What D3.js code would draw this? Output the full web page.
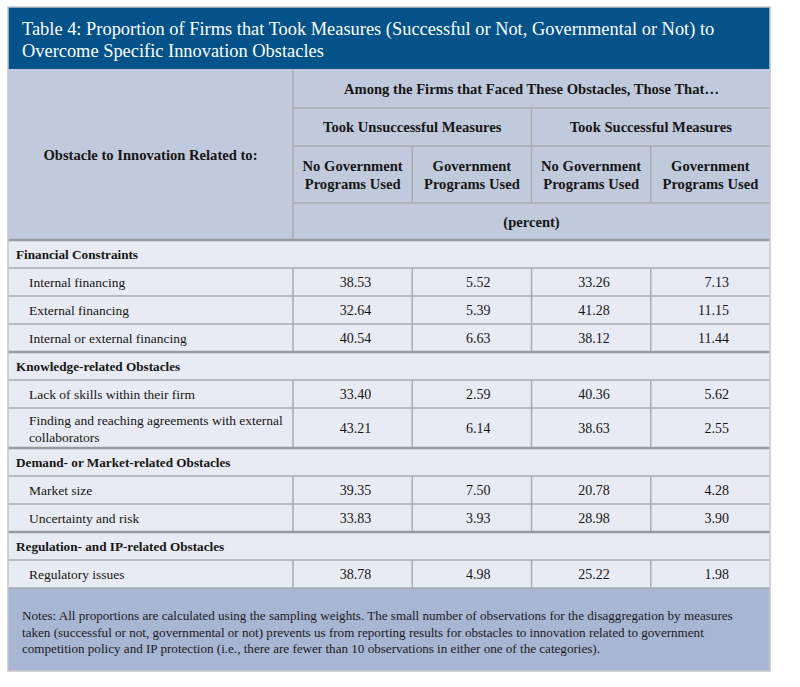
<!DOCTYPE html>
<html lang="en">
<head>
    <meta charset="UTF-8">
    <title>Table 4: Innovation Obstacles</title>
    <script src="https://d3js.org/d3.v7.js"></script>
    <style>
        body { margin: 0; background: #fff; }
        svg text { font-family: "Liberation Serif", "DejaVu Serif", serif; }
    </style>
</head>
<body>
<div id="my_dataviz"></div>
<script>
// ---- data ----
const titleLines = [
    "Table 4: Proportion of Firms that Took Measures (Successful or Not, Governmental or Not) to",
    "Overcome Specific Innovation Obstacles"
];
const stubHeader = "Obstacle to Innovation Related to:";
const spanHeader = "Among the Firms that Faced These Obstacles, Those That\u2026";
const measureHeaders = ["Took Unsuccessful Measures", "Took Successful Measures"];
const programHeaders = [["No Government", "Programs Used"], ["Government", "Programs Used"],
                        ["No Government", "Programs Used"], ["Government", "Programs Used"]];
const unitLabel = "(percent)";

const rowLabels = [
    ["Financial Constraints"],
    ["Internal financing"],
    ["External financing"],
    ["Internal or external financing"],
    ["Knowledge-related Obstacles"],
    ["Lack of skills within their firm"],
    ["Finding and reaching agreements with external", "collaborators"],
    ["Demand- or Market-related Obstacles"],
    ["Market size"],
    ["Uncertainty and risk"],
    ["Regulation- and IP-related Obstacles"],
    ["Regulatory issues"]
];
const isGroup = [true, false, false, false, true, false, false, true, false, false, true, false];
const unsuccNoGov = [null, 38.53, 32.64, 40.54, null, 33.40, 43.21, null, 39.35, 33.83, null, 38.78];
const unsuccGov   = [null, 5.52, 5.39, 6.63, null, 2.59, 6.14, null, 7.50, 3.93, null, 4.98];
const succNoGov   = [null, 33.26, 41.28, 38.12, null, 40.36, 38.63, null, 20.78, 28.98, null, 25.22];
const succGov     = [null, 7.13, 11.15, 11.44, null, 5.62, 2.55, null, 4.28, 3.90, null, 1.98];
const valueCols = ["c1", "c2", "c3", "c4"];
const series = [unsuccNoGov, unsuccGov, succNoGov, succGov];

const notesLines = [
    "Notes: All proportions are calculated using the sampling weights. The small number of observations for the disaggregation by measures",
    "taken (successful or not, governmental or not) prevents us from reporting results for obstacles to innovation related to government",
    "competition policy and IP protection (i.e., there are fewer than 10 observations in either one of the categories)."
];

// ---- layout ----
const W = 800, H = 687;
const frameL = 8, frameR = 770, frameT = 7;
const stubRight = 293;
const titleH = 62;
const headTop = frameT + titleH;        // 69
const headRows = [39, 38, 57, 37];      // heights of header rows
const bodyTop = headTop + d3.sum(headRows);
const notesH = 83;

const colors = {
    title: "#03528a",
    head: "#c1cadc",
    body: "#e8ebf3",
    notes: "#a7b6d3",
    line: "#a9abb1",
    heavy: "#979a9f",
    ink: "#161616"
};

const svg = d3.select("#my_dataviz")
    .append("svg")
    .attr("width", W)
    .attr("height", H);

// column scale for the four value columns
const x = d3.scaleBand()
    .domain(valueCols)
    .range([stubRight, frameR]);

// body rows have variable heights
const rowH = rowLabels.map(l => l.length > 1 ? 40 : 28);
const rowY = [];
rowH.reduce((acc, h, i) => { rowY[i] = acc; return acc + h; }, bodyTop);
const bodyBottom = bodyTop + d3.sum(rowH);

// title bar
svg.append("rect")
    .attr("x", frameL).attr("y", frameT)
    .attr("width", frameR - frameL).attr("height", titleH)
    .attr("fill", colors.title);

svg.selectAll(".title")
    .data(titleLines)
    .enter()
    .append("text")
    .attr("x", frameL + 14)
    .attr("y", (d, i) => frameT + 28 + i * 22)
    .attr("fill", "#fff")
    .style("font-size", "18.4px")
    .text(d => d);

// header background
svg.append("rect")
    .attr("x", frameL).attr("y", headTop)
    .attr("width", frameR - frameL).attr("height", bodyTop - headTop)
    .attr("fill", colors.head);

// body background
svg.append("rect")
    .attr("x", frameL).attr("y", bodyTop)
    .attr("width", frameR - frameL).attr("height", bodyBottom - bodyTop)
    .attr("fill", colors.body);

// notes background
svg.append("rect")
    .attr("x", frameL).attr("y", bodyBottom)
    .attr("width", frameR - frameL).attr("height", notesH)
    .attr("fill", colors.notes);

function rule(x1, y1, x2, y2, heavy) {
    svg.append("line")
        .attr("x1", x1).attr("y1", y1).attr("x2", x2).attr("y2", y2)
        .attr("stroke", heavy ? colors.heavy : colors.line)
        .attr("stroke-width", heavy ? 2.5 : 1.5);
}

// header rules
const hy = [headTop];
headRows.forEach((h, i) => hy.push(hy[i] + h));
rule(stubRight, headTop, stubRight, bodyTop);
rule(stubRight, hy[1], frameR, hy[1]);
rule(stubRight, hy[2], frameR, hy[2]);
rule(stubRight, hy[3], frameR, hy[3]);
rule(x("c3"), hy[1], x("c3"), hy[3]);
rule(x("c2"), hy[2], x("c2"), hy[3]);
rule(x("c4"), hy[2], x("c4"), hy[3]);

// header texts
const hText = svg.append("g")
    .style("font-weight", "bold")
    .style("font-size", "14.6px")
    .attr("fill", colors.ink)
    .attr("text-anchor", "middle");

hText.append("text")
    .attr("x", (frameL + stubRight) / 2)
    .attr("y", (headTop + bodyTop) / 2 + 5)
    .text(stubHeader);

hText.append("text")
    .attr("x", (stubRight + frameR) / 2)
    .attr("y", hy[0] + headRows[0] / 2 + 5)
    .text(spanHeader);

hText.selectAll(".measure")
    .data(measureHeaders)
    .enter()
    .append("text")
    .attr("x", (d, i) => x(valueCols[i * 2]) + x.bandwidth())
    .attr("y", hy[1] + headRows[1] / 2 + 5)
    .text(d => d);

programHeaders.forEach((lines, i) => {
    hText.selectAll(null)
        .data(lines)
        .enter()
        .append("text")
        .attr("x", x(valueCols[i]) + x.bandwidth() / 2)
        .attr("y", (d, j) => hy[2] + 25 + j * 18)
        .text(d => d);
});

hText.append("text")
    .attr("x", (stubRight + frameR) / 2)
    .attr("y", hy[3] + headRows[3] / 2 + 5)
    .text(unitLabel);

// body rows
rowLabels.forEach((lines, i) => {
    const y0 = rowY[i], h = rowH[i];
    const g = svg.append("g");
    g.selectAll("text")
        .data(lines)
        .enter()
        .append("text")
        .attr("x", isGroup[i] ? frameL + 8 : frameL + 21)
        .attr("y", (d, j) => y0 + h / 2 + 5 - (lines.length - 1) * 8.5 + j * 17)
        .style("font-size", isGroup[i] ? "13.2px" : "13.5px")
        .style("font-weight", isGroup[i] ? "bold" : "normal")
        .attr("fill", colors.ink)
        .text(d => d);

    if (!isGroup[i]) {
        series.forEach((s, k) => {
            g.append("text")
                .attr("x", x(valueCols[k]) + x.bandwidth() - 41)
                .attr("y", y0 + h / 2 + 5)
                .attr("text-anchor", "end")
                .style("font-size", "14px")
                .attr("fill", colors.ink)
                .text(d3.format(".2f")(s[i]));
        });
        valueCols.forEach(c => rule(x(c), y0, x(c), y0 + h));
    }
    // top rule of each row; heavier above group rows
    rule(frameL, y0, frameR, y0, isGroup[i]);
});
rule(frameL, bodyBottom, frameR, bodyBottom);

// notes
svg.selectAll(".note")
    .data(notesLines)
    .enter()
    .append("text")
    .attr("x", frameL + 14)
    .attr("y", (d, i) => bodyBottom + 32 + i * 16.5)
    .style("font-size", "13.1px")
    .attr("fill", "#1a1a1a")
    .text(d => d);

// outer frame
svg.append("rect")
    .attr("x", frameL).attr("y", frameT)
    .attr("width", frameR - frameL).attr("height", bodyBottom + notesH - frameT)
    .attr("fill", "none")
    .attr("stroke", "#c4c6cc")
    .attr("stroke-width", 1.5);
</script>
</body>
</html>
